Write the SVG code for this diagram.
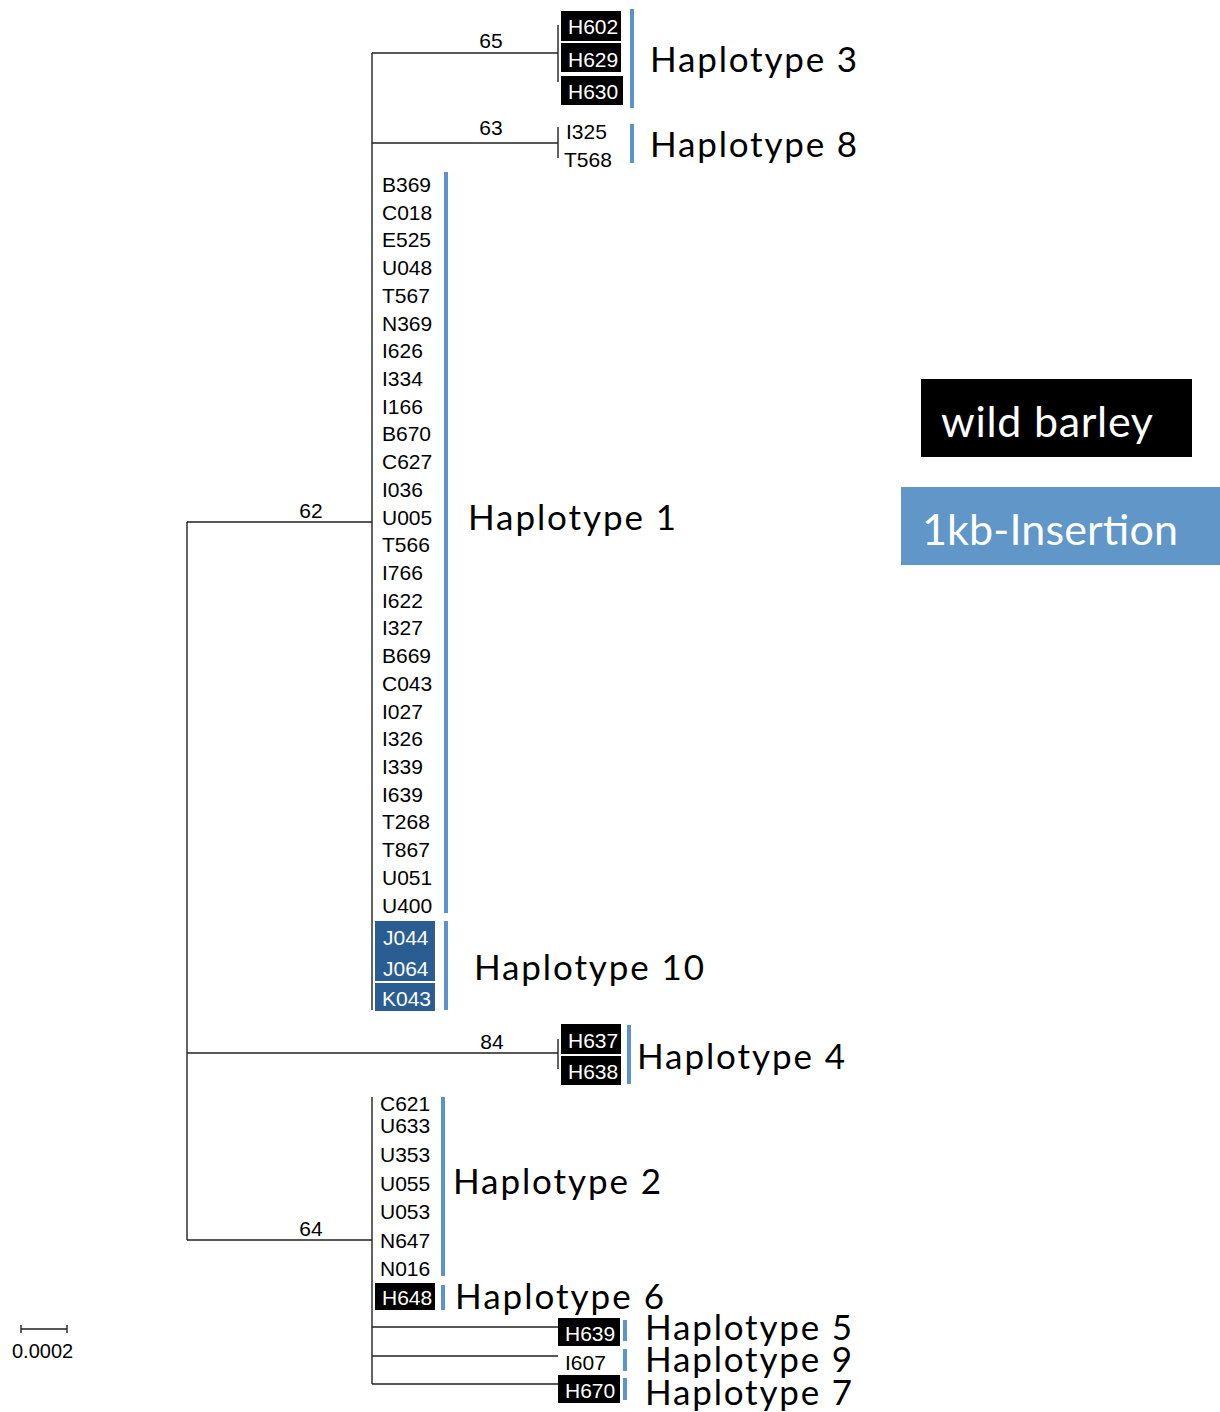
<svg xmlns="http://www.w3.org/2000/svg" width="1220" height="1412" viewBox="0 0 1220 1412">
<style>
.br{stroke:#222;stroke-width:1.4;fill:none}
.nm{font-family:"Liberation Sans",Arial,sans-serif;font-size:21px;fill:#000}
.wn{font-family:"Liberation Sans",Arial,sans-serif;font-size:21px;fill:#fff}
.bs{font-family:"Liberation Sans",Arial,sans-serif;font-size:21px;fill:#000;text-anchor:middle}
.hp{font-family:Lato,"Open Sans",sans-serif;font-size:35px;fill:#000}
.bar{fill:#5b93cc}
.bk{fill:#000}
.db{fill:#2a5d91}
.lg{font-family:Lato,"Open Sans",sans-serif;font-size:43px;fill:#fff}
</style>
<rect width="1220" height="1412" fill="#fff"/>
<g id="connectors">
<path class="br" d="M187 522V1240M187 522H372M187 1053H558M187 1240H372"/>
<path class="br" d="M372 53V1010M372 53H558M558 25V82M372 143H558M558 127V158"/>
<path class="br" d="M558 1039V1069"/>
<path class="br" d="M372 1097V1384M372 1327H558M372 1356H558M372 1384H558"/>
<path class="br" d="M21 1329H67M21 1325V1333M67 1325V1333" stroke="#444"/>
</g>
<g id="branch-labels">
<text class="bs" x="491" y="48">65</text>
<text class="bs" x="491" y="135">63</text>
<text class="bs" x="311" y="518">62</text>
<text class="bs" x="492" y="1049">84</text>
<text class="bs" x="311" y="1236">64</text>
<text class="nm" x="12" y="1358" style="font-size:20px">0.0002</text>
</g>
<g id="haplotype3">
<rect class="bk" x="561" y="11" width="60" height="30"/>
<rect class="bk" x="561" y="43" width="60" height="29"/>
<rect class="bk" x="561" y="76" width="62" height="29"/>
<text class="wn" x="568" y="34">H602</text>
<text class="wn" x="568" y="67">H629</text>
<text class="wn" x="568" y="99">H630</text>
<rect class="bar" x="630" y="9" width="4" height="99"/>
<text class="hp" x="650" y="72" textLength="207">Haplotype 3</text>
</g>
<g id="haplotype8">
<text class="nm" x="566" y="139">I325</text>
<text class="nm" x="564" y="167">T568</text>
<rect class="bar" x="630" y="124" width="4" height="39"/>
<text class="hp" x="650" y="157" textLength="207">Haplotype 8</text>
</g>
<g id="haplotype1">
<text class="nm" x="382" y="192">B369</text>
<text class="nm" x="382" y="220">C018</text>
<text class="nm" x="382" y="247">E525</text>
<text class="nm" x="382" y="275">U048</text>
<text class="nm" x="382" y="303">T567</text>
<text class="nm" x="382" y="331">N369</text>
<text class="nm" x="382" y="358">I626</text>
<text class="nm" x="382" y="386">I334</text>
<text class="nm" x="382" y="414">I166</text>
<text class="nm" x="382" y="441">B670</text>
<text class="nm" x="382" y="469">C627</text>
<text class="nm" x="382" y="497">I036</text>
<text class="nm" x="382" y="525">U005</text>
<text class="nm" x="382" y="552">T566</text>
<text class="nm" x="382" y="580">I766</text>
<text class="nm" x="382" y="608">I622</text>
<text class="nm" x="382" y="635">I327</text>
<text class="nm" x="382" y="663">B669</text>
<text class="nm" x="382" y="691">C043</text>
<text class="nm" x="382" y="719">I027</text>
<text class="nm" x="382" y="746">I326</text>
<text class="nm" x="382" y="774">I339</text>
<text class="nm" x="382" y="802">I639</text>
<text class="nm" x="382" y="829">T268</text>
<text class="nm" x="382" y="857">T867</text>
<text class="nm" x="382" y="885">U051</text>
<text class="nm" x="382" y="913">U400</text>
<rect class="bar" x="444" y="172" width="4" height="741"/>
<text class="hp" x="468" y="530" textLength="208">Haplotype 1</text>
</g>
<g id="haplotype10">
<rect class="db" x="375" y="921" width="60" height="60"/>
<rect class="db" x="375" y="983" width="60" height="28"/>
<text class="wn" x="383" y="945">J044</text>
<text class="wn" x="383" y="976">J064</text>
<text class="wn" x="382" y="1006">K043</text>
<rect class="bar" x="444" y="921" width="4" height="89"/>
<text class="hp" x="474" y="980" textLength="230">Haplotype 10</text>
</g>
<g id="haplotype4">
<rect class="bk" x="561" y="1024" width="60" height="30"/>
<rect class="bk" x="561" y="1056" width="60" height="29"/>
<text class="wn" x="568" y="1048">H637</text>
<text class="wn" x="568" y="1079">H638</text>
<rect class="bar" x="627" y="1025" width="4" height="59"/>
<text class="hp" x="637" y="1069" textLength="208">Haplotype 4</text>
</g>
<g id="haplotype2">
<text class="nm" x="380" y="1111">C621</text>
<text class="nm" x="380" y="1133">U633</text>
<text class="nm" x="380" y="1162">U353</text>
<text class="nm" x="380" y="1191">U055</text>
<text class="nm" x="380" y="1219">U053</text>
<text class="nm" x="380" y="1248">N647</text>
<text class="nm" x="380" y="1276">N016</text>
<rect class="bar" x="441" y="1097" width="4" height="179"/>
<text class="hp" x="453" y="1194" textLength="208">Haplotype 2</text>
</g>
<g id="haplotype6">
<rect class="bk" x="375" y="1283" width="60" height="27"/>
<text class="wn" x="382" y="1305">H648</text>
<rect class="bar" x="441" y="1285" width="4" height="25"/>
<text class="hp" x="455" y="1309" textLength="209">Haplotype 6</text>
</g>
<g id="haplotype5">
<rect class="bk" x="558" y="1318" width="62" height="28"/>
<text class="wn" x="565" y="1341">H639</text>
<rect class="bar" x="623" y="1320" width="4" height="21"/>
<text class="hp" x="645" y="1340" textLength="207">Haplotype 5</text>
</g>
<g id="haplotype9">
<text class="nm" x="565" y="1370">I607</text>
<rect class="bar" x="623" y="1349" width="4" height="22"/>
<text class="hp" x="645" y="1372" textLength="207">Haplotype 9</text>
</g>
<g id="haplotype7">
<rect class="bk" x="558" y="1375" width="62" height="28"/>
<text class="wn" x="565" y="1398">H670</text>
<rect class="bar" x="623" y="1378" width="4" height="22"/>
<text class="hp" x="645" y="1405" textLength="207">Haplotype 7</text>
</g>
<g id="legend-wild">
<rect x="921" y="379" width="271" height="78" fill="#000"/>
<text class="lg" x="941" y="437" textLength="212">wild barley</text>
</g>
<g id="legend-insertion">
<rect x="901" y="487" width="319" height="78" fill="#6096c8"/>
<text class="lg" x="922" y="545" textLength="256">1kb-Insertion</text>
</g>
</svg>
